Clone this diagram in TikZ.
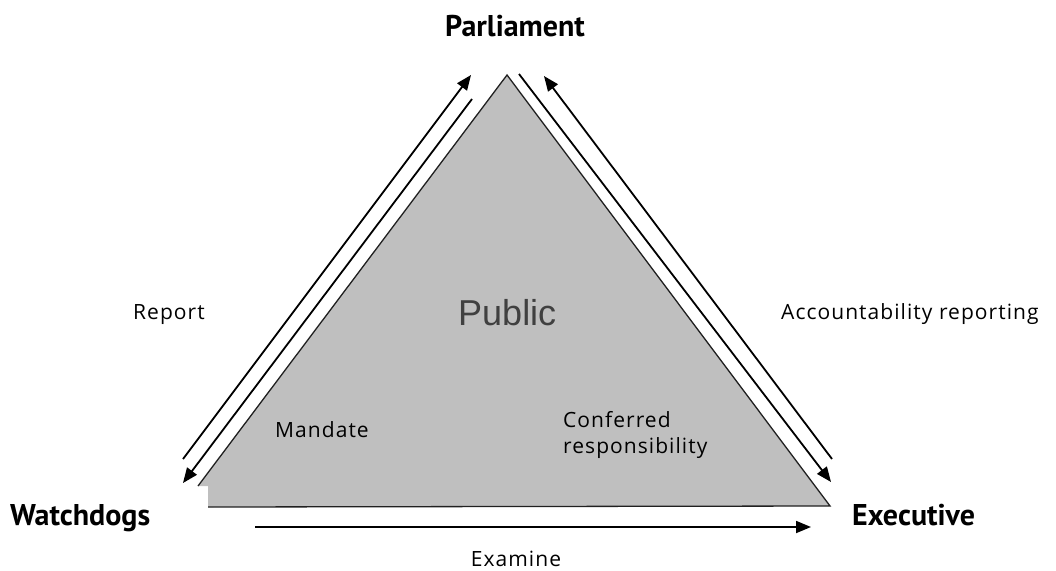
\documentclass[tikz,border=0pt]{standalone}
\usepackage{fontspec}
\setmainfont{PT Sans}
\newfontfamily\publicfont{Liberation Sans}
\newfontfamily\flowfont[LetterSpace=5]{Open Sans}
\usetikzlibrary{positioning, arrows.meta}

\begin{document}
\begin{tikzpicture}[x=1pt, y=-1pt,
        % Define styles for the parts
        party/.style={font=\fontsize{30}{36}\selectfont\bfseries, anchor=base west, inner sep=0pt},
        flow/.style={font=\flowfont\fontsize{21}{26}\selectfont, anchor=base west, inner sep=0pt, align=left},
        arrow/.style={line width=1.8pt, -{Triangle[length=15pt, width=12pt]}},
        area/.style={fill=gray!50},
        edge/.style={draw=gray!25!black, line width=1.3pt}
    ]
    \useasboundingbox (0,0) rectangle (1056,570);

    % Define corners of the triangle
    \coordinate (top) at (507,75);
    \coordinate (right) at (830,506);
    \coordinate (cutbottom) at (208,507);
    \coordinate (cutin) at (208,486);
    \coordinate (cutleft) at (198,486);

    % Draw the triangle
    \fill[area] (top) -- (right) -- (cutbottom) -- (cutin) -- (cutleft) -- cycle;
    \draw[edge] (cutbottom) -- (right) -- (top) -- (cutleft);

    % Define nodes
    \node[party] (parliament) at (445,36) {Parliament};
    \node[party] (watchdogs) at (10,525) {Watchdogs};
    \node[party] (executive) at (852,525) {Executive};
    \node[font=\publicfont\fontsize{36}{40}\selectfont, text=black!75, anchor=base west, inner sep=0pt] (public) at (458,325) {Public};
    \node[flow] (report) at (133,319) {Report};
    \node[flow] (reporting) at (781,319) {Accountability reporting};
    \node[flow] (mandate) at (275,437) {Mandate};
    \node[flow] (conferred) at (563,453) {Conferred\\responsibility};
    \node[flow, anchor=base] (examine) at (516,566) {Examine};

    % Define arrow ends
    \coordinate (wup1) at (183,459);
    \coordinate (wup2) at (471,75);
    \coordinate (wdown1) at (472,99);
    \coordinate (wdown2) at (183,483);
    \coordinate (edown1) at (519,74);
    \coordinate (edown2) at (831,482);
    \coordinate (eup1) at (832,459);
    \coordinate (eup2) at (544,76);
    \coordinate (exa1) at (255,527);
    \coordinate (exa2) at (811,527);

    % Draw arrows
    \draw[arrow] (wup1) -- (wup2);
    \draw[arrow] (wdown1) -- (wdown2);
    \draw[arrow] (edown1) -- (edown2);
    \draw[arrow] (eup1) -- (eup2);
    \draw[arrow] (exa1) -- (exa2);
\end{tikzpicture}
\end{document}
